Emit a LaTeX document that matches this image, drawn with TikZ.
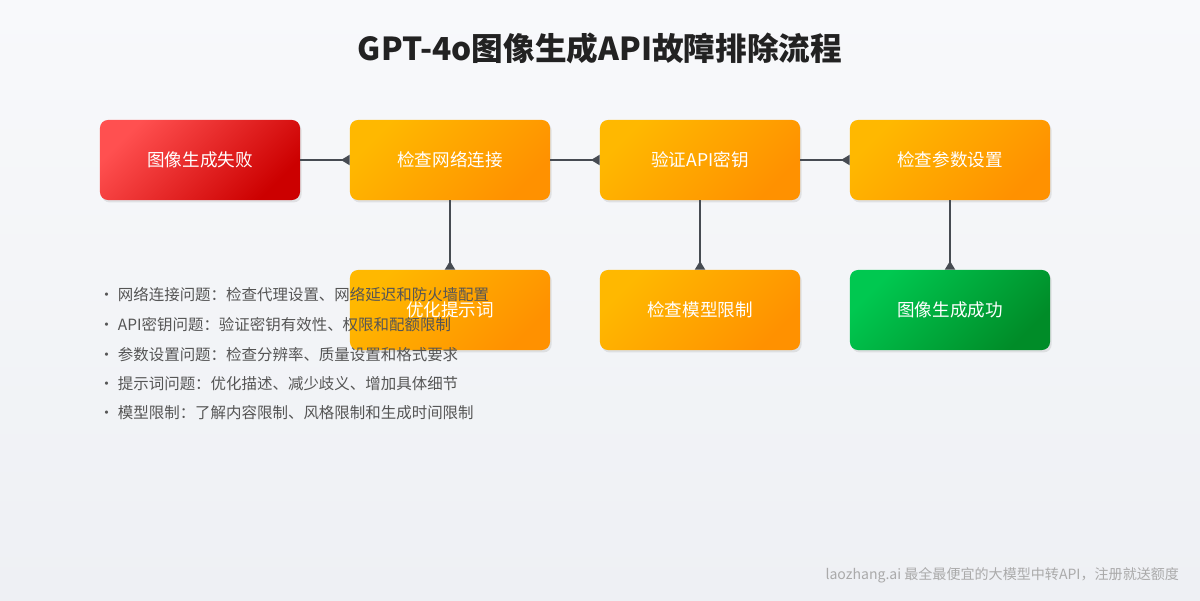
\documentclass[tikz,border=0pt]{standalone}
\usepackage{fontspec}
\setmainfont{Noto Sans CJK SC}
\usetikzlibrary{arrows.meta,shadows,positioning}
\definecolor{bgtop}{RGB}{248,249,251}
\definecolor{bgbot}{RGB}{238,240,244}
\definecolor{failA}{RGB}{255,80,80}
\definecolor{failB}{RGB}{204,0,0}
\definecolor{stepA}{RGB}{255,184,0}
\definecolor{stepB}{RGB}{255,145,0}
\definecolor{okA}{RGB}{0,200,80}
\definecolor{okB}{RGB}{0,140,40}
\definecolor{linegray}{RGB}{70,75,82}
\definecolor{textgray}{RGB}{85,85,85}
\tikzset{
  box/.style={minimum width=5cm, minimum height=2cm, rounded corners=0.2cm,
    text=white, font=\fontsize{12.5}{14}\selectfont,
    drop shadow={shadow xshift=0.04cm, shadow yshift=-0.06cm, opacity=0.18}},
  failbox/.style={box, top color=failA, bottom color=failB, shading angle=45},
  stepbox/.style={box, top color=stepA, bottom color=stepB, shading angle=45},
  okbox/.style={box, top color=okA, bottom color=okB, shading angle=45},
  link/.style={linegray, line width=0.05cm, -{Triangle[reversed,length=0.22cm,width=0.25cm]}},
  note/.style={anchor=west, text=textgray, font=\fontsize{11}{13}\selectfont}
}
\begin{document}
\begin{tikzpicture}[x=0.025cm,y=-0.025cm]
    % background
    \shade[top color=bgtop, bottom color=bgbot] (0,0) rectangle (1200,600);
    \useasboundingbox (0,0) rectangle (1200,600);

    % title
    \node[font=\fontsize{22.5}{26}\selectfont\bfseries, text={rgb,255:red,34;green,34;blue,34}] (title) at (600,48) {GPT-4o图像生成API故障排除流程};

    % flow boxes
    \node[failbox] (fail) at (200,160) {图像生成失败};
    \node[stepbox] (net) at (450,160) {检查网络连接};
    \node[stepbox] (key) at (700,160) {验证API密钥};
    \node[stepbox] (param) at (950,160) {检查参数设置};
    \node[stepbox] (prompt) at (450,310) {优化提示词};
    \node[stepbox] (model) at (700,310) {检查模型限制};
    \node[okbox] (done) at (950,310) {图像生成成功};

    % connectors
    \draw[link] (fail) -- (net);
    \draw[link] (net) -- (key);
    \draw[link] (key) -- (param);
    \draw[link] (net) -- (prompt);
    \draw[link] (key) -- (model);
    \draw[link] (param) -- (done);

    % notes
    \node[note] (n1) at (94,295) {• 网络连接问题：检查代理设置、网络延迟和防火墙配置};
    \node[note] (n2) at (94,325) {• API密钥问题：验证密钥有效性、权限和配额限制};
    \node[note] (n3) at (94,355) {• 参数设置问题：检查分辨率、质量设置和格式要求};
    \node[note] (n4) at (94,384) {• 提示词问题：优化描述、减少歧义、增加具体细节};
    \node[note] (n5) at (94,413) {• 模型限制：了解内容限制、风格限制和生成时间限制};

    % footer
    \node[anchor=east, text={rgb,255:red,170;green,170;blue,170}, font=\fontsize{10}{11}\selectfont] (foot) at (1184,575) {laozhang.ai 最全最便宜的大模型中转API，注册就送额度};
\end{tikzpicture}
\end{document}
